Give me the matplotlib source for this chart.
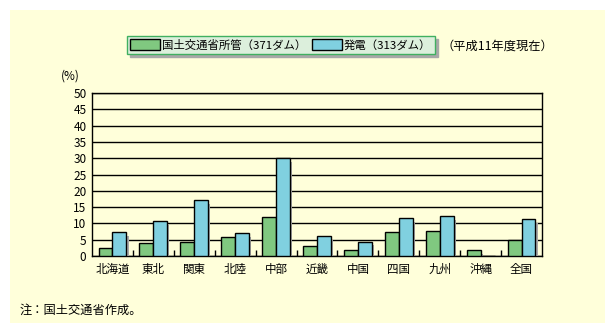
import matplotlib
matplotlib.use("Agg")
from matplotlib import pyplot as plt
from matplotlib.patches import Rectangle, Patch
import matplotlib.patheffects as pe
import numpy as np

plt.rcParams['font.family'] = ['Noto Sans CJK JP', 'DejaVu Sans']

regions = ['北海道', '東北', '関東', '北陸', '中部', '近畿', '中国', '四国', '九州', '沖縄', '全国']
mlit = [2.5, 4.0, 4.3, 5.8, 11.9, 3.1, 1.8, 7.3, 7.6, 1.8, 5.0]
power = [7.3, 10.7, 17.1, 7.0, 30.0, 6.1, 4.3, 11.6, 12.2, 0, 11.3]
yticks = list(range(0, 55, 5))

bg = '#FFFFDA'
green = '#80C880'
blue = '#80D0E0'

W, H = 615, 333
fig = plt.figure(figsize=(W / 100, H / 100), dpi=100)
fig.patch.set_facecolor('white')

# yellow panel behind everything
fig.patches.append(Rectangle((10 / W, 1 - 323 / H), 595 / W, 313 / H,
                             transform=fig.transFigure, facecolor=bg,
                             edgecolor='none', zorder=-10))

ax = fig.add_axes([92 / W, 1 - 256 / H, 450 / W, 163 / H])
ax.set_facecolor(bg)

x = np.arange(len(regions))
bw = 0.34
shadow = [pe.SimplePatchShadow(offset=(1.6, -2.5), shadow_rgbFace='#A8A8A8', alpha=1), pe.Normal()]
b1 = ax.bar(x - bw / 2, mlit, bw, color=green, edgecolor='black', linewidth=1, zorder=3)
b2 = ax.bar(x + bw / 2, power, bw, color=blue, edgecolor='black', linewidth=1, zorder=3)
for b in list(b1) + list(b2):
    if b.get_height() > 0:
        b.set_path_effects(shadow)

ax.set_xlim(-0.5, len(regions) - 0.5)
ax.set_ylim(0, 50)
ax.set_yticks(yticks)
ax.set_yticklabels([str(v) for v in yticks], fontsize=8.5)
ax.yaxis.grid(True, color='black', linewidth=1)
ax.set_axisbelow(True)
ax.tick_params(axis='y', length=0, pad=4)

ax.set_xticks(x)
ax.set_xticklabels(regions, fontsize=8.3)
ax.set_xticks(np.arange(0.5, len(regions) - 0.5, 1), minor=True)
ax.tick_params(axis='x', which='major', length=0, pad=5)
ax.tick_params(axis='x', which='minor', direction='in', length=4, width=1)
for s in ax.spines.values():
    s.set_color('black')
    s.set_linewidth(1)

fig.text(61 / W, 1 - 76 / H, '(%)', fontsize=8.5, va='center', ha='left')

leg = fig.legend([Patch(facecolor=green, edgecolor='black'), Patch(facecolor=blue, edgecolor='black')],
                 ['国土交通省所管（371ダム）', '発電（313ダム）'],
                 loc='center', bbox_to_anchor=(281 / W, 1 - 45 / H), ncol=2,
                 fontsize=8.2, frameon=True, fancybox=False, shadow={'color': '#A8A8A8', 'alpha': 1},
                 handlelength=2.6, handleheight=1.1, handletextpad=0.2, columnspacing=0.5,
                 borderpad=0.3, borderaxespad=0)
leg.get_frame().set_facecolor('#DCEFDC')
leg.get_frame().set_edgecolor('#40B060')
leg.get_frame().set_linewidth(1)

fig.text(441 / W, 1 - 46 / H, '（平成11年度現在）', fontsize=8.8, va='center', ha='left')
fig.text(20 / W, 1 - 310 / H, '注：国土交通省作成。', fontsize=8.8, va='center', ha='left')

fig.savefig('out.png', dpi=100, facecolor=fig.get_facecolor())
